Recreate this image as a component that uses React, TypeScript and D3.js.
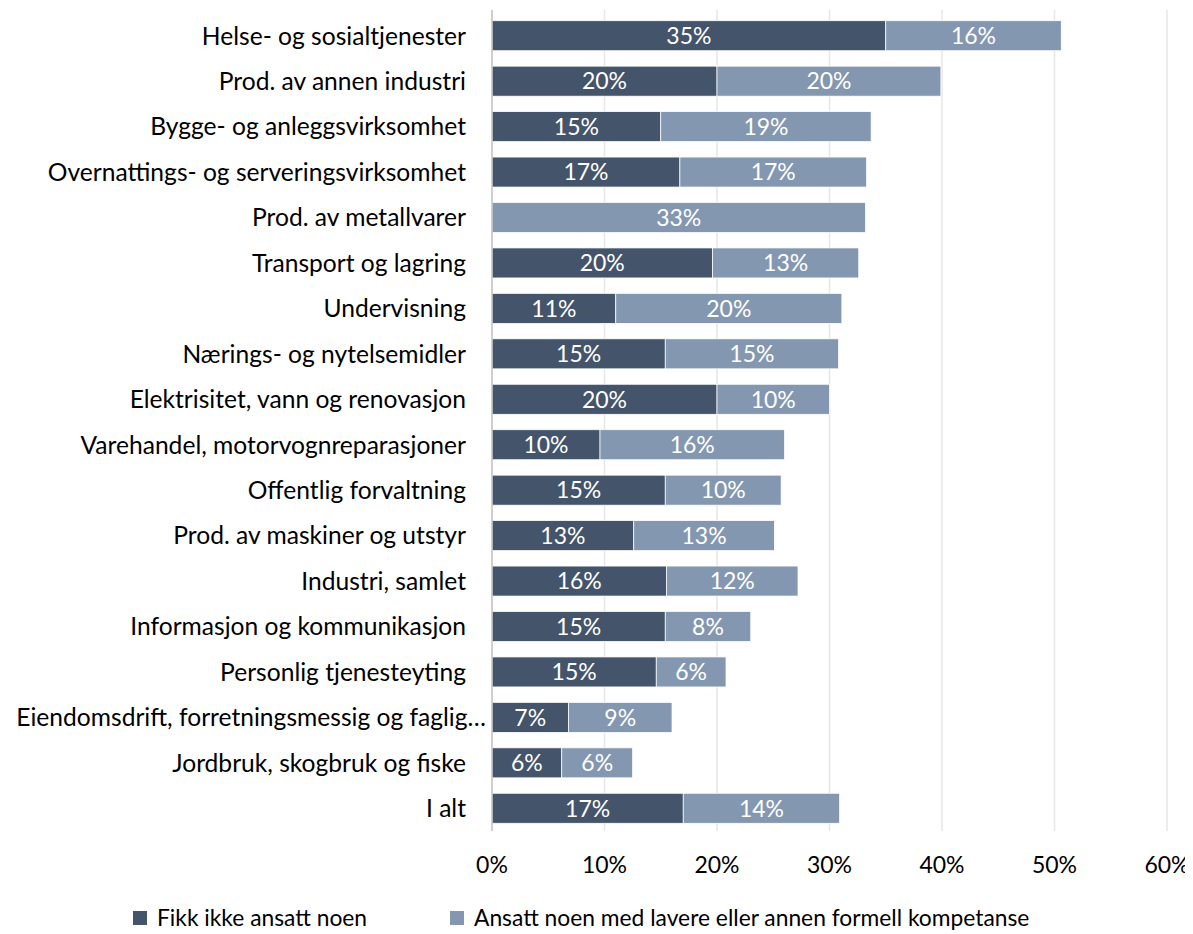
import { useEffect, useRef } from "react";
import * as d3 from "d3";

const categories = [
  "Helse- og sosialtjenester",
  "Prod. av annen industri",
  "Bygge- og anleggsvirksomhet",
  "Overnattings- og serveringsvirksomhet",
  "Prod. av metallvarer",
  "Transport og lagring",
  "Undervisning",
  "Nærings- og nytelsemidler",
  "Elektrisitet, vann og renovasjon",
  "Varehandel, motorvognreparasjoner",
  "Offentlig forvaltning",
  "Prod. av maskiner og utstyr",
  "Industri, samlet",
  "Informasjon og kommunikasjon",
  "Personlig tjenesteyting",
  "Eiendomsdrift, forretningsmessig og faglig…",
  "Jordbruk, skogbruk og fiske",
  "I alt",
];

// Fikk ikke ansatt noen
const notHired = [35, 20, 15, 16.7, 0, 19.6, 11, 15.4, 20, 9.6, 15.4, 12.6, 15.5, 15.4, 14.6, 6.8, 6.2, 17];
// Ansatt noen med lavere eller annen formell kompetanse
const hiredLower = [15.6, 19.9, 18.7, 16.6, 33.2, 13, 20.1, 15.4, 10, 16.4, 10.3, 12.5, 11.7, 7.6, 6.2, 9.2, 6.3, 13.9];

const seriesNames = ["Fikk ikke ansatt noen", "Ansatt noen med lavere eller annen formell kompetanse"];
const colors = ["#44546A", "#8497B0"];
const xTicks = [0, 10, 20, 30, 40, 50, 60];

const FONT = "Lato, 'Liberation Sans', Arial, sans-serif";

export default function App() {
  const svgRef = useRef<SVGSVGElement>(null);

  useEffect(() => {
    if (!svgRef.current) return;
    const W = 1193;
    const H = 934;
    const svg = d3.select(svgRef.current);
    svg.selectAll("*").remove();
    svg.attr("width", W).attr("height", H).attr("viewBox", `0 0 ${W} ${H}`);

    const x = d3.scaleLinear().domain([0, 60]).range([492, 1167]);
    const y = d3.scaleBand<string>().domain(categories).range([13, 831]).paddingInner(0.34).paddingOuter(0.17);

    // gridlines
    svg
      .append("g")
      .selectAll("line")
      .data(xTicks.slice(1))
      .join("line")
      .attr("x1", (d) => x(d))
      .attr("x2", (d) => x(d))
      .attr("y1", 10)
      .attr("y2", 831)
      .attr("stroke", "#e6e6e6")
      .attr("stroke-width", 1.5);

    const rows = categories.map((c, i) => ({ c, a: notHired[i], b: hiredLower[i] }));

    const g = svg.append("g");
    // dark segment
    g.selectAll("rect.a")
      .data(rows.filter((r) => r.a > 0))
      .join("rect")
      .attr("class", "a")
      .attr("x", x(0))
      .attr("y", (d) => y(d.c)!)
      .attr("width", (d) => x(d.a) - x(0))
      .attr("height", y.bandwidth())
      .attr("fill", colors[0])
      .attr("stroke", "#fff")
      .attr("stroke-width", 0.75);
    // light segment
    g.selectAll("rect.b")
      .data(rows)
      .join("rect")
      .attr("class", "b")
      .attr("x", (d) => x(d.a))
      .attr("y", (d) => y(d.c)!)
      .attr("width", (d) => x(d.a + d.b) - x(d.a))
      .attr("height", y.bandwidth())
      .attr("fill", colors[1])
      .attr("stroke", "#fff")
      .attr("stroke-width", 0.75);

    // labels inside bars
    const labels = g.append("g").attr("font-family", FONT).attr("font-size", 23).attr("fill", "#fff").attr("text-anchor", "middle");
    rows.forEach((r) => {
      const cy = y(r.c)! + y.bandwidth() / 2;
      if (r.a > 0) {
        labels.append("text").attr("x", (x(0) + x(r.a)) / 2).attr("y", cy).attr("dy", "0.36em").text(`${Math.round(r.a)}%`);
      }
      labels
        .append("text")
        .attr("x", (x(r.a) + x(r.a + r.b)) / 2)
        .attr("y", cy)
        .attr("dy", "0.36em")
        .text(`${Math.round(r.b)}%`);
    });

    // y axis line
    svg.append("line").attr("x1", x(0)).attr("x2", x(0)).attr("y1", 10).attr("y2", 831).attr("stroke", "#bfbfbf").attr("stroke-width", 1.5);

    // category labels
    svg
      .append("g")
      .attr("font-family", FONT)
      .attr("font-size", 24.6)
      .attr("fill", "#000")
      .attr("text-anchor", "end")
      .selectAll("text")
      .data(categories)
      .join("text")
      .attr("x", (d) => (d.endsWith("…") ? 486 : 466))
      .attr("y", (d) => y(d)! + y.bandwidth() / 2)
      .attr("dy", "0.36em")
      .text((d) => d);

    // x tick labels
    svg
      .append("g")
      .attr("font-family", FONT)
      .attr("font-size", 23)
      .attr("fill", "#000")
      .attr("text-anchor", "middle")
      .selectAll("text")
      .data(xTicks)
      .join("text")
      .attr("x", (d) => x(d))
      .attr("y", 865)
      .attr("dy", "0.36em")
      .text((d) => `${d}%`);

    // legend
    const legendX = [133, 450];
    const leg = svg.append("g").attr("font-family", FONT).attr("font-size", 22.8).attr("fill", "#000");
    seriesNames.forEach((name, i) => {
      leg.append("rect").attr("x", legendX[i]).attr("y", 911).attr("width", 14).attr("height", 14).attr("fill", colors[i]);
      leg.append("text").attr("x", legendX[i] + 24).attr("y", 918).attr("dy", "0.36em").text(name);
    });
  }, []);

  return (
    <div style={{ margin: -8 }}>
      <svg ref={svgRef} role="img" aria-label="Stablet liggende stolpediagram etter næring" />
    </div>
  );
}
